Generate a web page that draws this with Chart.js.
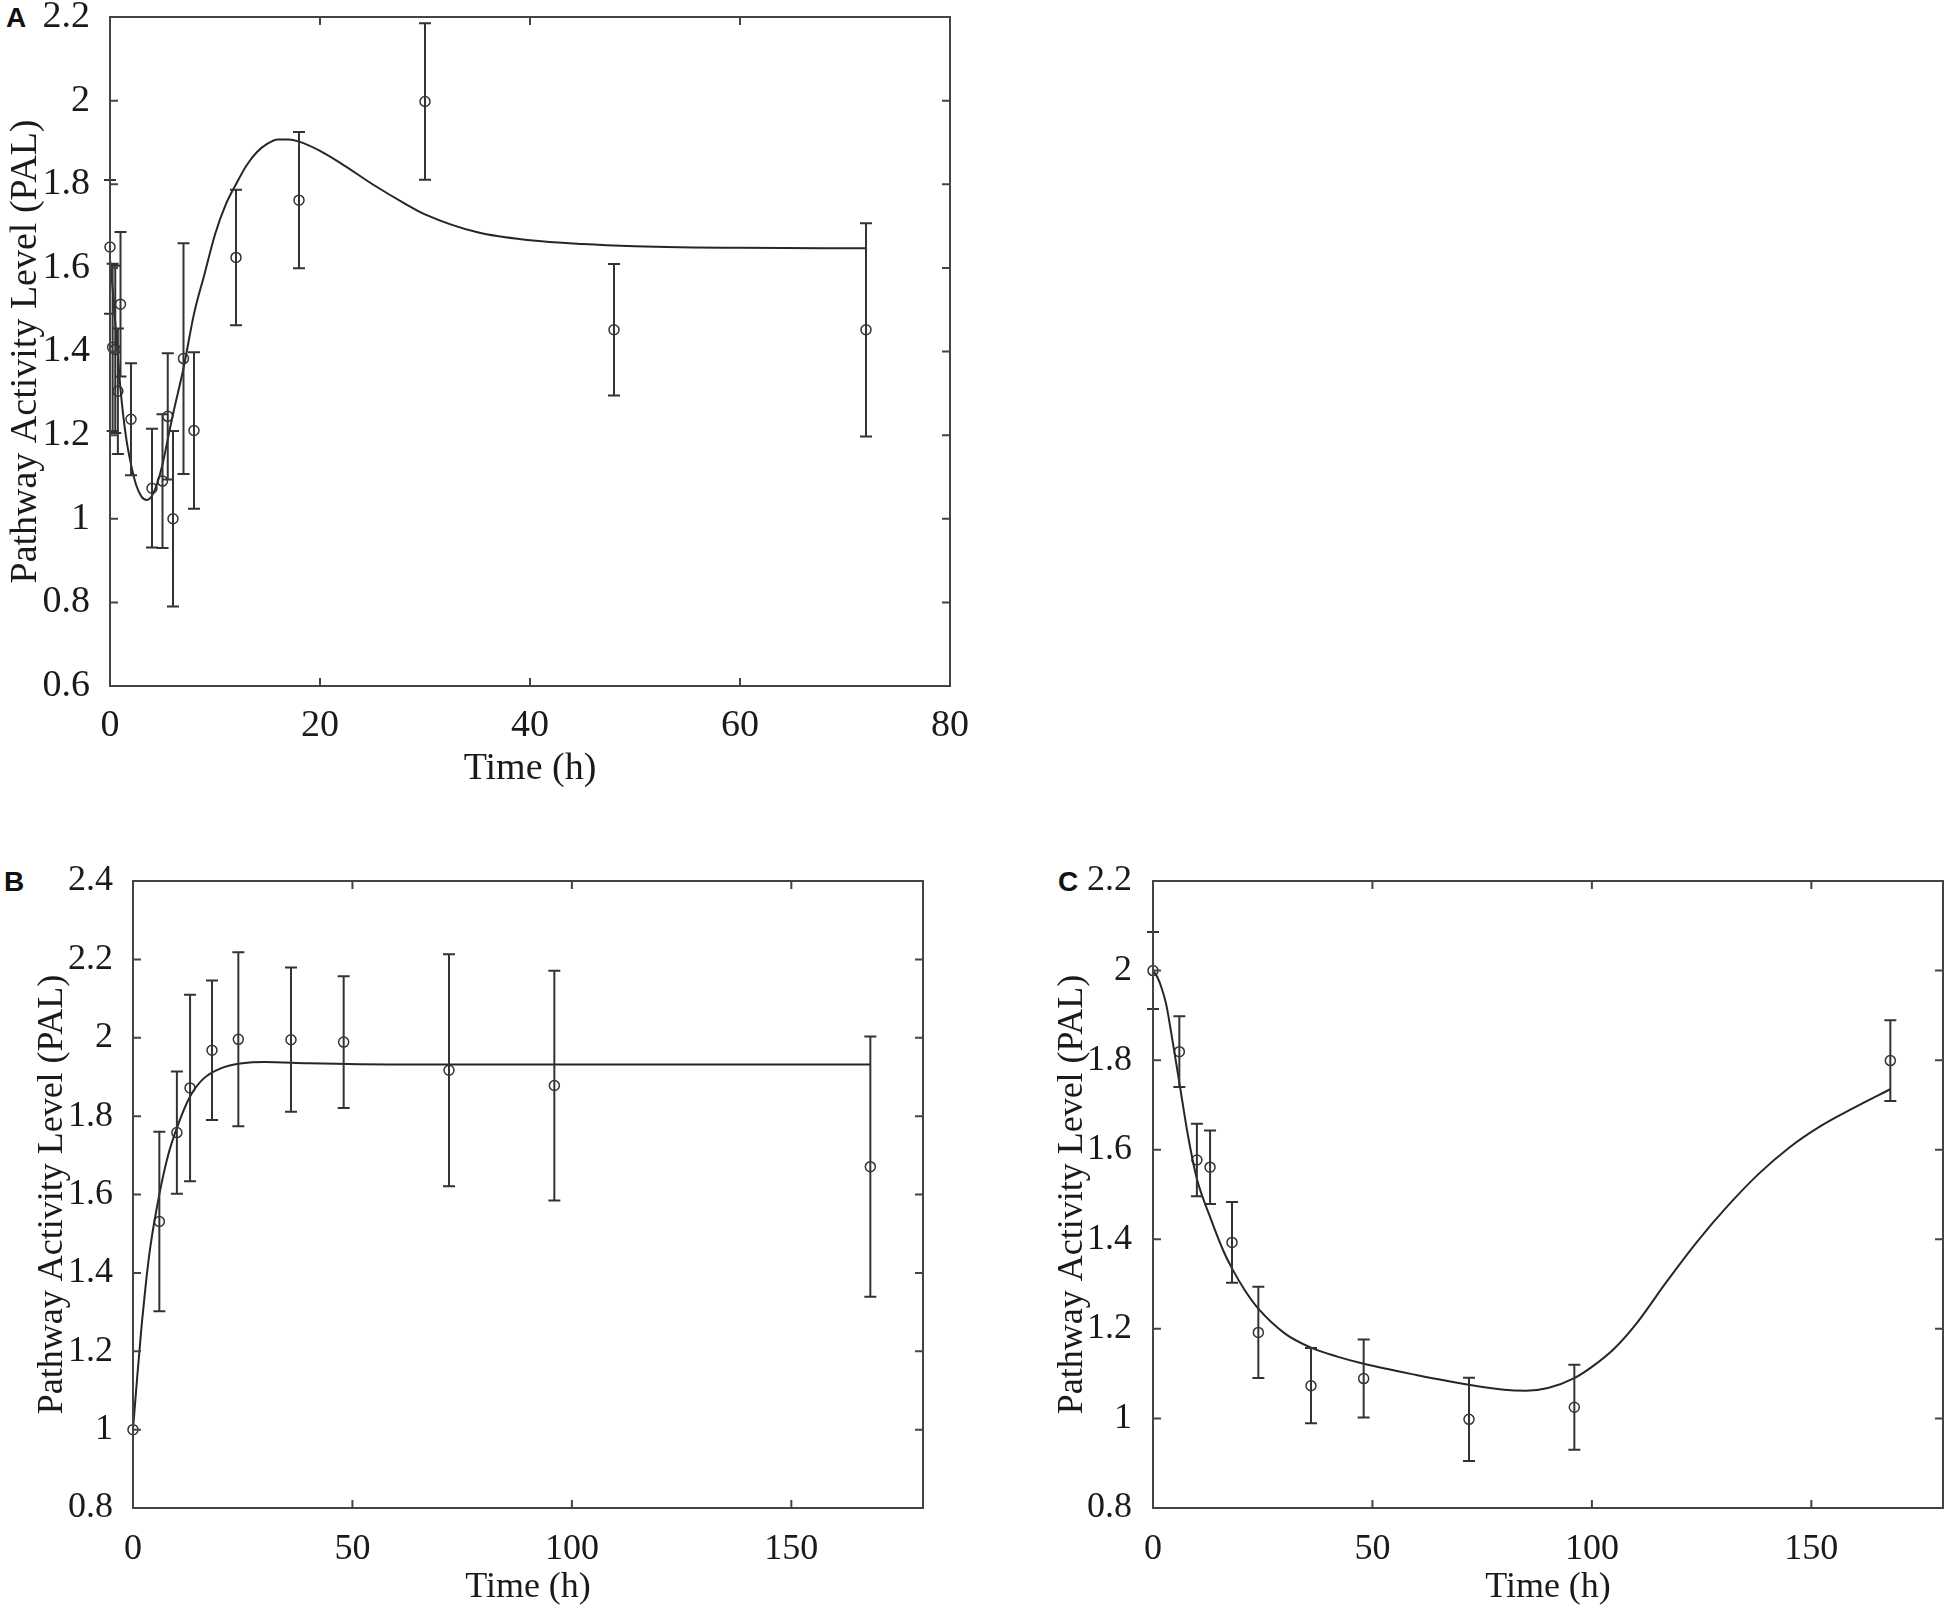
<!DOCTYPE html>
<html>
<head>
<meta charset="utf-8">
<script src="https://cdn.jsdelivr.net/npm/chart.js@4.4.1/dist/chart.umd.min.js"></script>
<style>
  body { margin: 0; background: #fff; width: 1950px; height: 1609px; position: relative; overflow: hidden; }
  canvas { position: absolute; }
  .tag { position: absolute; font: bold 28px "Liberation Sans", Arial, sans-serif; line-height: 1; color: #111; }
</style>
</head>
<body>
<div class="tag" style="left:6px; top:4px;">A</div>
<div class="tag" style="left:4px; top:868px;">B</div>
<div class="tag" style="left:1058px; top:868px;">C</div>
<canvas id="chartA" width="980" height="800" style="left:0; top:0;"></canvas>
<canvas id="chartB" width="980" height="769" style="left:0; top:840px;"></canvas>
<canvas id="chartC" width="950" height="769" style="left:1000px; top:840px;"></canvas>
<script>
// panel A - measured points and error bars
var aObsTime = [0, 0.25, 0.5, 0.75, 1, 2, 4, 5, 5.5, 6, 7, 8, 12, 18, 30, 48, 72];
var aObsPAL  = [1.65, 1.41, 1.405, 1.305, 1.513, 1.238, 1.073, 1.09, 1.245, 1.0, 1.383, 1.211, 1.625, 1.762, 1.998, 1.452, 1.452];
var aObsErr  = [0.16, 0.2, 0.2, 0.15, 0.173, 0.134, 0.142, 0.16, 0.151, 0.21, 0.276, 0.187, 0.162, 0.163, 0.187, 0.157, 0.255];
// panel A - model curve
var aFitTime = [0, 0.25, 0.5, 0.75, 1, 1.5, 2, 2.5, 3, 3.5, 4, 4.5, 5, 5.5, 6, 7, 8, 9, 10, 11, 12, 13, 14, 15, 16, 17, 18, 20, 22, 25, 28, 30, 35, 40, 45, 50, 60, 72];
var aFitPAL  = [1.62, 1.55, 1.47, 1.39, 1.31, 1.2, 1.13, 1.08, 1.053, 1.045, 1.055, 1.085, 1.13, 1.19, 1.25, 1.36, 1.49, 1.585, 1.68, 1.75, 1.8, 1.845, 1.877, 1.897, 1.907, 1.907, 1.902, 1.88, 1.85, 1.8, 1.755, 1.728, 1.685, 1.666, 1.657, 1.652, 1.648, 1.647];
var aXTicks = [0, 20, 40, 60, 80];
var aYTicks = [0.6, 0.8, 1, 1.2, 1.4, 1.6, 1.8, 2, 2.2];

// panel B
var bObsTime = [0, 6, 10, 13, 18, 24, 36, 48, 72, 96, 168];
var bObsPAL  = [1.0, 1.531, 1.758, 1.872, 1.968, 1.996, 1.995, 1.989, 1.917, 1.878, 1.671];
var bObsErr  = [0, 0.229, 0.156, 0.238, 0.178, 0.222, 0.184, 0.168, 0.296, 0.293, 0.332];
var bFitTime = [0, 1, 2, 3, 4, 6, 8, 10, 13, 16, 20, 25, 30, 40, 60, 100, 168];
var bFitPAL  = [1.0, 1.14, 1.27, 1.38, 1.47, 1.6, 1.7, 1.77, 1.85, 1.895, 1.922, 1.935, 1.938, 1.935, 1.932, 1.932, 1.932];
var bXTicks = [0, 50, 100, 150];
var bYTicks = [0.8, 1, 1.2, 1.4, 1.6, 1.8, 2, 2.2, 2.4];

// panel C
var cObsTime = [0, 6, 10, 13, 18, 24, 36, 48, 72, 96, 168];
var cObsPAL  = [2.0, 1.819, 1.577, 1.561, 1.393, 1.192, 1.073, 1.089, 0.998, 1.025, 1.799];
var cObsErr  = [0.086, 0.079, 0.081, 0.082, 0.09, 0.102, 0.084, 0.087, 0.093, 0.095, 0.09];
var cFitTime = [0, 1, 2, 3, 4, 6, 8, 10, 13, 16, 18, 21, 24, 30, 36, 42, 48, 60, 72, 80, 85, 90, 96, 100, 105, 110, 117, 124, 131, 138, 145, 152, 160, 168];
var cFitPAL  = [2.0, 1.985, 1.96, 1.925, 1.87, 1.75, 1.63, 1.535, 1.45, 1.375, 1.335, 1.285, 1.245, 1.19, 1.158, 1.138, 1.122, 1.097, 1.075, 1.064, 1.062, 1.068, 1.09, 1.115, 1.155, 1.21, 1.305, 1.395, 1.475, 1.546, 1.605, 1.652, 1.695, 1.735];
var cXTicks = [0, 50, 100, 150];
var cYTicks = [0.8, 1, 1.2, 1.4, 1.6, 1.8, 2, 2.2];

var serif = '"Liberation Serif", "Times New Roman", serif';
var textColor = '#1a1a1a';

function fmt(v) {
  return String(Math.round(v * 10) / 10);
}

// box around the plot with inward ticks on all four sides
var framePlugin = {
  id: 'frame',
  afterDraw: function (chart) {
    var ctx = chart.ctx, a = chart.chartArea, x = chart.scales.x, y = chart.scales.y;
    ctx.save();
    ctx.strokeStyle = '#444';
    ctx.lineWidth = 2;
    ctx.strokeRect(a.left, a.top, a.right - a.left, a.bottom - a.top);
    ctx.beginPath();
    x.ticks.forEach(function (t) {
      var px = x.getPixelForValue(t.value);
      ctx.moveTo(px, a.bottom); ctx.lineTo(px, a.bottom - 8);
      ctx.moveTo(px, a.top); ctx.lineTo(px, a.top + 8);
    });
    y.ticks.forEach(function (t) {
      var py = y.getPixelForValue(t.value);
      ctx.moveTo(a.left, py); ctx.lineTo(a.left + 8, py);
      ctx.moveTo(a.right, py); ctx.lineTo(a.right - 8, py);
    });
    ctx.stroke();
    ctx.restore();
  }
};

function errorBarPlugin(times, vals, errs) {
  return {
    id: 'errorBars',
    afterDatasetsDraw: function (chart) {
      var ctx = chart.ctx, x = chart.scales.x, y = chart.scales.y;
      ctx.save();
      ctx.strokeStyle = '#333';
      ctx.lineWidth = 2;
      ctx.beginPath();
      for (let i = 0; i < times.length; i++) {
        if (!errs[i]) continue;
        var px = x.getPixelForValue(times[i]);
        var hi = y.getPixelForValue(vals[i] + errs[i]);
        var lo = y.getPixelForValue(vals[i] - errs[i]);
        ctx.moveTo(px, hi); ctx.lineTo(px, lo);
        ctx.moveTo(px - 6, hi); ctx.lineTo(px + 6, hi);
        ctx.moveTo(px - 6, lo); ctx.lineTo(px + 6, lo);
      }
      ctx.stroke();
      ctx.restore();
    }
  };
}

function makePanel(id, o) {
  var font = { family: serif, size: o.fs, lineHeight: 1.2 };
  return new Chart(document.getElementById(id), {
    type: 'scatter',
    data: {
      datasets: [{
        type: 'line',
        data: o.fitT.map(function (t, i) { return { x: t, y: o.fitV[i] }; }),
        borderColor: '#262626',
        borderWidth: 2,
        pointRadius: 0,
        cubicInterpolationMode: 'monotone',
        fill: false
      }, {
        data: o.obsT.map(function (t, i) { return { x: t, y: o.obsV[i] }; }),
        pointStyle: 'circle',
        pointRadius: 5,
        borderColor: '#333',
        borderWidth: 1.5,
        backgroundColor: 'rgba(0,0,0,0)',
        clip: false
      }]
    },
    options: {
      responsive: false,
      animation: false,
      devicePixelRatio: 1,
      layout: { autoPadding: false, padding: { left: o.padL, top: o.padT, right: o.padR, bottom: 0 } },
      plugins: { legend: { display: false }, tooltip: { enabled: false } },
      scales: {
        x: {
          type: 'linear', min: o.xMin, max: o.xMax,
          grid: { display: false }, border: { display: false },
          afterBuildTicks: function (s) { s.ticks = o.xTicks.map(function (v) { return { value: v }; }); },
          afterFit: function (s) { s.height = o.xH; s.paddingLeft = 0; s.paddingRight = 0; },
          ticks: { font: font, color: textColor, padding: o.xTickPad, maxRotation: 0, autoSkip: false, callback: fmt },
          title: { display: true, text: 'Time (h)', font: font, color: textColor, padding: { top: 0, bottom: o.xTitlePad } }
        },
        y: {
          type: 'linear', min: o.yMin, max: o.yMax,
          grid: { display: false }, border: { display: false },
          afterBuildTicks: function (s) { s.ticks = o.yTicks.map(function (v) { return { value: v }; }); },
          afterFit: function (s) { s.width = o.yW; s.paddingTop = 0; s.paddingBottom = 0; },
          ticks: { font: font, color: textColor, padding: o.yTickPad, autoSkip: false, callback: fmt },
          title: { display: true, text: 'Pathway Activity Level (PAL)', font: font, color: textColor, padding: { top: o.yTitlePad, bottom: 0 } }
        }
      }
    },
    plugins: [framePlugin, errorBarPlugin(o.obsT, o.obsV, o.obsE)]
  });
}

makePanel('chartA', {
  obsT: aObsTime, obsV: aObsPAL, obsE: aObsErr, fitT: aFitTime, fitV: aFitPAL,
  xTicks: aXTicks, yTicks: aYTicks, xMin: 0, xMax: 80, yMin: 0.6, yMax: 2.2,
  fs: 38, padL: 0, padT: 17, padR: 30, yW: 110, xH: 114,
  xTickPad: 9, yTickPad: 12, xTitlePad: 8, yTitlePad: 3
});

makePanel('chartB', {
  obsT: bObsTime, obsV: bObsPAL, obsE: bObsErr, fitT: bFitTime, fitV: bFitPAL,
  xTicks: bXTicks, yTicks: bYTicks, xMin: 0, xMax: 180, yMin: 0.8, yMax: 2.4,
  fs: 36, padL: 27, padT: 41, padR: 57, yW: 106, xH: 101,
  xTickPad: 12, yTickPad: 12, xTitlePad: 0, yTitlePad: 4
});

makePanel('chartC', {
  obsT: cObsTime, obsV: cObsPAL, obsE: cObsErr, fitT: cFitTime, fitV: cFitPAL,
  xTicks: cXTicks, yTicks: cYTicks, xMin: 0, xMax: 180, yMin: 0.8, yMax: 2.2,
  fs: 36, padL: 47, padT: 41, padR: 7, yW: 106, xH: 101,
  xTickPad: 12, yTickPad: 13, xTitlePad: 0, yTitlePad: 4
});
</script>
</body>
</html>
